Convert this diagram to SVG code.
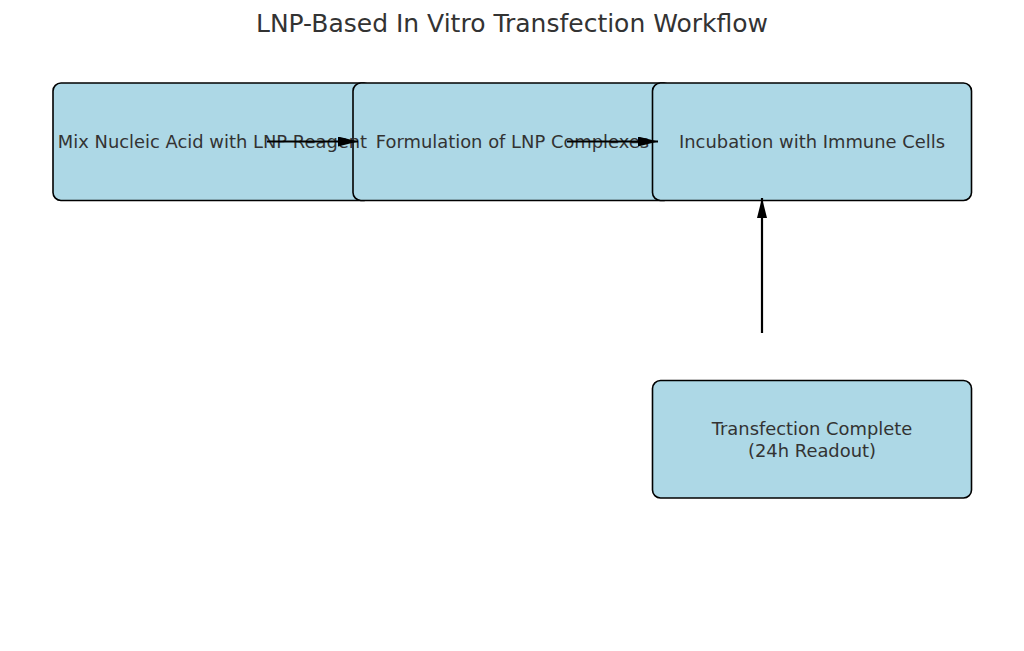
<svg xmlns="http://www.w3.org/2000/svg" width="1024" height="651" viewBox="0 0 1024 651">
<defs>
<style>
.box{fill:#ADD8E6;stroke:#000;stroke-width:1.6}
.lbl{font-family:"DejaVu Sans",sans-serif;font-size:17.9px;fill:#333;text-anchor:middle;dominant-baseline:central}
.title{font-family:"DejaVu Sans",sans-serif;font-size:25px;fill:#333;text-anchor:middle}
.conn{stroke:#000;stroke-width:2.2;fill:none;marker-end:url(#ah)}
</style>
<marker id="ah" viewBox="0 0 20 10" refX="20" refY="5" markerWidth="20" markerHeight="10" markerUnits="userSpaceOnUse" orient="auto">
<path d="M0,0 L20,5 L0,10 Z" fill="#000"/>
</marker>
</defs>
<rect width="1024" height="651" fill="#fff"/>
<text class="title" x="512" y="32">LNP-Based In Vitro Transfection Workflow</text>
<g id="node1"><rect class="box" x="53" y="83" width="319" height="117.5" rx="8"/></g>
<g id="node2"><rect class="box" x="353" y="83" width="319" height="117.5" rx="8"/></g>
<g id="node3"><rect class="box" x="652.5" y="83" width="319" height="117.5" rx="8"/></g>
<g id="node4"><rect class="box" x="652.5" y="380.5" width="319" height="117.5" rx="8"/></g>
<g id="labels">
<text class="lbl" x="212.5" y="141.5">Mix Nucleic Acid with LNP Reagent</text>
<text class="lbl" x="512.5" y="141.5">Formulation of LNP Complexes</text>
<text class="lbl" x="812" y="141.5">Incubation with Immune Cells</text>
<text class="lbl" x="812" y="428">Transfection Complete</text>
<text class="lbl" x="812" y="450">(24h Readout)</text>
</g>
<g id="connectors">
<line class="conn" x1="267" y1="141.5" x2="358" y2="141.5"/>
<line class="conn" x1="567" y1="141.5" x2="658" y2="141.5"/>
<line class="conn" x1="762" y1="333" x2="762" y2="198"/>
</g>
</svg>
